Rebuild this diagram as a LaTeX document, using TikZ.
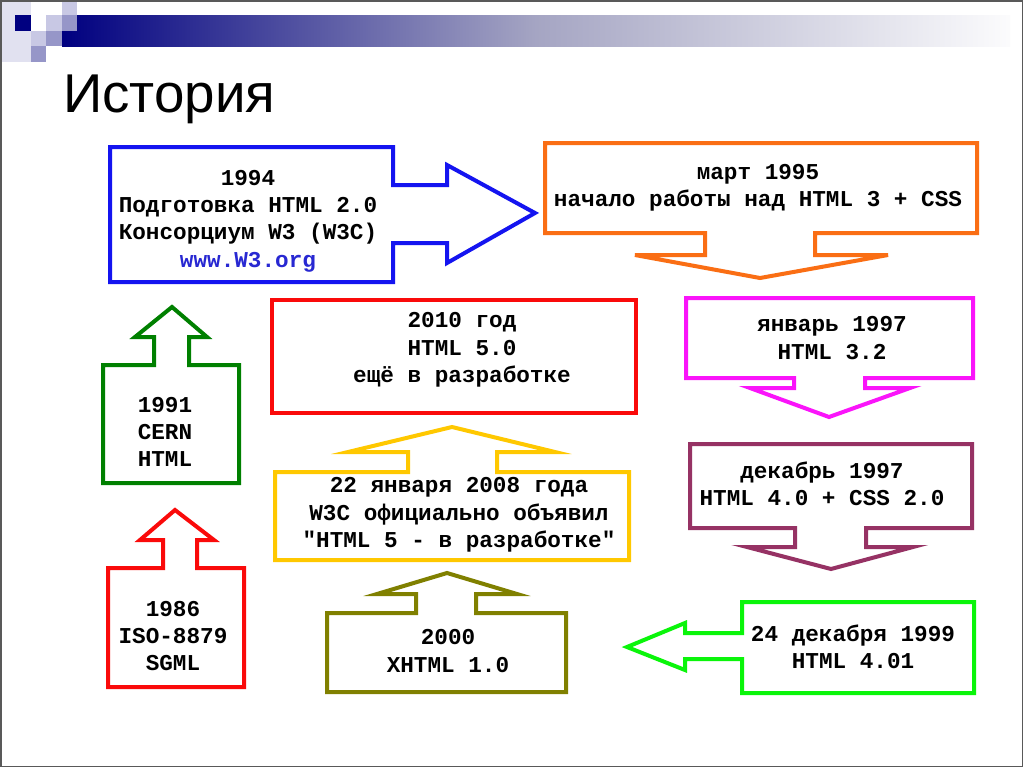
\documentclass[tikz,border=0pt]{standalone}
\usepackage{fontspec}
\setmainfont{Liberation Sans}
\newfontfamily\monob[FakeStretch=1.0]{Liberation Mono}
\definecolor{cBlue}{RGB}{20,20,240}
\definecolor{cLink}{RGB}{40,40,210}
\definecolor{cOrange}{RGB}{250,110,20}
\definecolor{cDGreen}{RGB}{0,128,0}
\definecolor{cRed}{RGB}{250,10,10}
\definecolor{cYellow}{RGB}{255,200,0}
\definecolor{cOlive}{RGB}{128,128,0}
\definecolor{cMagenta}{RGB}{250,20,250}
\definecolor{cPurple}{RGB}{150,50,100}
\definecolor{cLGreen}{RGB}{10,245,10}
\definecolor{cNavy}{RGB}{0,0,128}
\definecolor{cMid}{RGB}{165,165,195}
\definecolor{cSq1}{RGB}{200,200,228}
\definecolor{cSq2}{RGB}{150,150,200}
\definecolor{cSq3}{RGB}{225,225,240}
\tikzset{
  shapeline/.style={line width=3pt, line join=miter, miter limit=10},
  boxtext/.style={font=\monob\bfseries\fontsize{17}{20.5}\selectfont, align=center, inner sep=0pt, anchor=center},
}
\begin{document}
\begin{tikzpicture}[x=0.75pt,y=-0.75pt]
\useasboundingbox (0,0) rectangle (1024,768);
\fill[white] (0,0) rectangle (1024,768);
% header decoration
\shade[left color=cNavy, right color=white!96!cMid, middle color=cMid] (62,15) rectangle (1010,46);
\fill[cSq3] (1,2) rectangle (31,62);
\fill[cSq1] (62,2) rectangle (77,15);
\fill[cSq2] (62,15) rectangle (77,31);
\fill[cSq1] (46,15) rectangle (62,31);
\fill[cSq2] (46,31) rectangle (62,46);
\fill[cSq1] (31,31) rectangle (46,46);
\fill[cSq2] (31,46) rectangle (46,62);
\fill[cNavy] (15,15) rectangle (31,31);
% border
\draw[gray!70!black, line width=1.2pt] (0.8,0.8) rectangle (1022.5,766.5);
% title
\node[font=\fontsize{41}{49}\selectfont, anchor=base west, inner sep=0pt] (title) at (63,112) {История};
% shapes
\draw[shapeline, cBlue] (110,147) -- (393,147) -- (393,185) -- (447,185) -- (447,165) -- (535,213) -- (447,263) -- (447,243) -- (393,243) -- (393,282) -- (110,282) -- cycle;
\draw[shapeline, cOrange] (545,143) -- (977,143) -- (977,233) -- (815,233) -- (815,255) -- (888,255) -- (760,278) -- (635,255) -- (705,255) -- (705,233) -- (545,233) -- cycle;
\draw[shapeline, cMagenta] (686,298) -- (973,298) -- (973,378) -- (865,378) -- (865,388) -- (910,388) -- (829,417) -- (750,388) -- (794,388) -- (794,378) -- (686,378) -- cycle;
\draw[shapeline, cPurple] (690,444) -- (972,444) -- (972,528) -- (866,528) -- (866,547) -- (913,547) -- (831,569) -- (747,547) -- (795,547) -- (795,528) -- (690,528) -- cycle;
\draw[shapeline, cLGreen] (742,602) -- (974,602) -- (974,693) -- (742,693) -- (742,659) -- (685,659) -- (685,670) -- (627,647) -- (685,623) -- (685,633) -- (742,633) -- cycle;
\draw[shapeline, cOlive] (327,692) -- (327,613) -- (416,613) -- (416,594) -- (377,594) -- (447,573) -- (517,594) -- (476,594) -- (476,613) -- (566,613) -- (566,692) -- cycle;
\draw[shapeline, cYellow] (275,560) -- (275,472) -- (408,472) -- (408,452) -- (348,452) -- (452,427) -- (555,452) -- (497,452) -- (497,472) -- (629,472) -- (629,560) -- cycle;
\draw[shapeline, cRed] (272,300) rectangle (636,413);
\draw[shapeline, cDGreen] (103,483) -- (103,365) -- (154,365) -- (154,337) -- (135,337) -- (172,307) -- (207,337) -- (189,337) -- (189,365) -- (239,365) -- (239,483) -- cycle;
\draw[shapeline, cRed] (108,687) -- (108,568) -- (163,568) -- (163,540) -- (140,540) -- (175,510) -- (214,540) -- (197,540) -- (197,568) -- (244,568) -- (244,687) -- cycle;
% texts
\node[boxtext] (t1994) at (248,221) {1994\\Подготовка HTML 2.0\\Консорциум W3 (W3C)\\\textcolor{cLink}{www.W3.org}};
\node[boxtext] (t1995) at (758,188) {март 1995\\начало работы над HTML 3 + CSS};
\node[boxtext] (t1997a) at (832,338) {январь 1997\\HTML 3.2};
\node[boxtext] (t1997b) at (822,484) {декабрь 1997\\HTML 4.0 + CSS 2.0};
\node[boxtext] (t1999) at (853,647) {24 декабря 1999\\HTML 4.01};
\node[boxtext] (t2000) at (448,651) {2000\\XHTML 1.0};
\node[boxtext] (t2008) at (459,515) {22 января 2008 года\\W3C официально объявил\\"HTML 5 - в разработке"};
\node[boxtext] (t2010) at (462,350) {2010 год\\HTML 5.0\\ещё в разработке};
\node[boxtext] (t1991) at (165,432) {1991\\CERN\\HTML};
\node[boxtext] (t1986) at (173,636) {1986\\ISO-8879\\SGML};
\end{tikzpicture}
\end{document}
